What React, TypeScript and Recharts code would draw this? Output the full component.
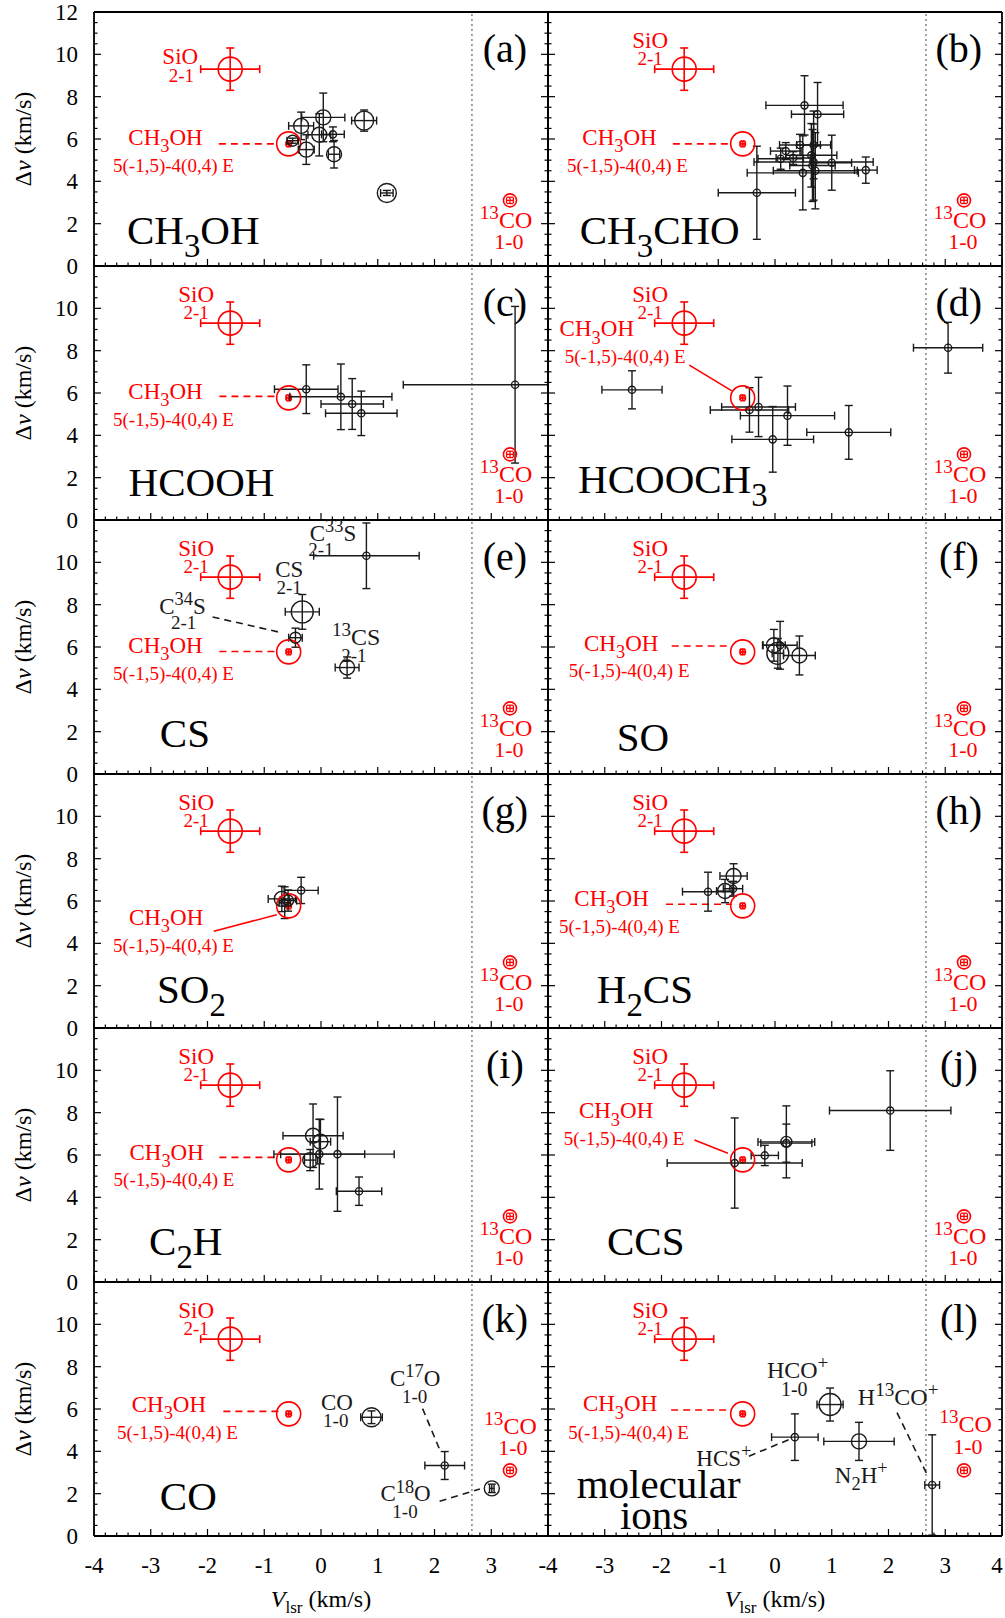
import React from 'react';
import { ScatterChart, Scatter, XAxis, YAxis, ErrorBar, ReferenceLine, ReferenceDot } from 'recharts';

const SERIF = '"Liberation Serif", "DejaVu Serif", serif';
const RED = '#ff0000';
const INK = '#1a1a1a';

// ---------- axes ----------
const X_MAJOR = [-4, -3, -2, -1, 0, 1, 2, 3, 4];
const Y_MAJOR = [0, 2, 4, 6, 8, 10, 12];
const X_TICKS: number[] = [];
for (let i = 0; i < X_MAJOR.length - 1; i++) for (let k = 0; k < 5; k++) X_TICKS.push(Math.round((X_MAJOR[i] + k * 0.2) * 10) / 10);
X_TICKS.push(4);
const Y_TICKS: number[] = [];
for (let i = 0; i < Y_MAJOR.length - 1; i++) for (let k = 0; k < 4; k++) Y_TICKS.push(Y_MAJOR[i] + k * 0.5);
Y_TICKS.push(12);
const VSYS = 2.66;

// ---------- reference (red) points ----------
const sio = [{ x: -1.6, y: 9.3, ex: 0.52, ey: 1.0 }];
const ch3ohRef = [{ x: -0.57, y: 5.77, ex: 0.045, ey: 0.13 }];
const co13 = [{ x: 3.33, y: 3.1, ex: 0.06, ey: 0.15 }];

// ---------- panel data: x = Vlsr, y = dv, ex/ey errors, s = marker class ----------
type Pt = { x: number; y: number; ex: number | number[]; ey: number | number[]; s: number };
const ptsA: Pt[] = [
  { x: -0.5, y: 5.92, ex: 0.1, ey: 0.12, s: 2 },
  { x: -0.35, y: 6.62, ex: 0.22, ey: 0.65, s: 3 },
  { x: 0.04, y: 7.02, ex: 0.38, ey: 1.15, s: 3 },
  { x: -0.03, y: 6.2, ex: 0.2, ey: 1.0, s: 3 },
  { x: 0.21, y: 6.22, ex: 0.2, ey: 0.35, s: 1 },
  { x: -0.26, y: 5.5, ex: 0.14, ey: 0.7, s: 3 },
  { x: 0.23, y: 5.28, ex: 0.1, ey: 0.65, s: 3 },
  { x: 0.76, y: 6.87, ex: 0.22, ey: 0.5, s: 4 },
  { x: 1.16, y: 3.45, ex: 0.11, ey: 0.12, s: 4 },
];
const ptsB: Pt[] = [
  { x: 0.52, y: 7.59, ex: 0.68, ey: 1.4, s: 1 },
  { x: 0.75, y: 7.17, ex: 0.46, ey: 1.5, s: 1 },
  { x: -0.32, y: 3.46, ex: 0.68, ey: 2.2, s: 1 },
  { x: 0.44, y: 5.72, ex: 0.36, ey: 0.5, s: 1 },
  { x: 0.68, y: 5.72, ex: 0.3, ey: 1.6, s: 1 },
  { x: 0.19, y: 5.43, ex: 0.27, ey: 0.4, s: 1 },
  { x: 0.1, y: 5.07, ex: 0.4, ey: 0.5, s: 1 },
  { x: 0.32, y: 5.1, ex: 0.3, ey: 0.3, s: 1 },
  { x: 0.64, y: 5.23, ex: 0.45, ey: 1.5, s: 1 },
  { x: 0.68, y: 4.91, ex: 1.05, ey: 1.8, s: 1 },
  { x: 1.0, y: 4.88, ex: 0.35, ey: 1.3, s: 1 },
  { x: 1.6, y: 4.53, ex: 0.2, ey: 0.62, s: 1 },
  { x: 0.49, y: 4.4, ex: 0.98, ey: 1.75, s: 1 },
  { x: 0.71, y: 4.5, ex: 0.74, ey: 1.8, s: 1 },
  { x: 0.66, y: 4.75, ex: 0.4, ey: 1.7, s: 1 },
];
const ptsC: Pt[] = [
  { x: -0.26, y: 6.18, ex: 0.56, ey: 1.15, s: 1 },
  { x: 0.35, y: 5.82, ex: 0.9, ey: 1.55, s: 1 },
  { x: 0.55, y: 5.48, ex: 0.55, ey: 1.2, s: 1 },
  { x: 0.71, y: 5.04, ex: 0.63, ey: 1.05, s: 1 },
  { x: 3.42, y: 6.39, ex: [1.97, 0.58], ey: 3.7, s: 1 },
];
const ptsD: Pt[] = [
  { x: -2.52, y: 6.15, ex: 0.53, ey: 0.9, s: 1 },
  { x: 3.05, y: 8.14, ex: 0.61, ey: 1.2, s: 1 },
  { x: -0.45, y: 5.2, ex: 0.69, ey: 1.05, s: 1 },
  { x: -0.29, y: 5.34, ex: 0.65, ey: 1.4, s: 1 },
  { x: 0.22, y: 4.93, ex: 0.83, ey: 1.4, s: 1 },
  { x: -0.04, y: 3.81, ex: 0.72, ey: 1.55, s: 1 },
  { x: 1.3, y: 4.14, ex: 0.74, ey: 1.27, s: 1 },
];
const ptsE: Pt[] = [
  { x: 0.8, y: 10.31, ex: 0.93, ey: 1.55, s: 1 },
  { x: -0.33, y: 7.66, ex: 0.3, ey: 0.82, s: 5 },
  { x: -0.45, y: 6.44, ex: 0.12, ey: 0.45, s: 2 },
  { x: 0.46, y: 5.03, ex: 0.21, ey: 0.5, s: 3 },
];
const ptsF: Pt[] = [
  { x: -0.02, y: 6.08, ex: 0.2, ey: 0.75, s: 3 },
  { x: 0.09, y: 6.08, ex: 0.3, ey: 1.13, s: 1 },
  { x: 0.05, y: 5.7, ex: 0.1, ey: 0.7, s: 5 },
  { x: 0.43, y: 5.6, ex: 0.28, ey: 0.92, s: 3 },
];
const ptsG: Pt[] = [
  { x: -0.35, y: 6.5, ex: 0.3, ey: 0.62, s: 1 },
  { x: -0.69, y: 6.1, ex: 0.24, ey: 0.6, s: 3 },
  { x: -0.64, y: 5.92, ex: 0.1, ey: 0.75, s: 1 },
  { x: -0.58, y: 6.02, ex: 0.15, ey: 0.5, s: 2 },
];
const ptsH: Pt[] = [
  { x: -1.18, y: 6.44, ex: 0.45, ey: 0.92, s: 1 },
  { x: -0.73, y: 7.18, ex: 0.24, ey: 0.58, s: 3 },
  { x: -0.88, y: 6.47, ex: 0.15, ey: 0.55, s: 3 },
  { x: -0.74, y: 6.58, ex: 0.17, ey: 0.35, s: 1 },
];
const ptsI: Pt[] = [
  { x: -0.14, y: 6.91, ex: 0.53, ey: 1.5, s: 3 },
  { x: -0.01, y: 6.63, ex: 0.18, ey: 1.05, s: 3 },
  { x: -0.19, y: 5.76, ex: 0.1, ey: 0.5, s: 3 },
  { x: -0.03, y: 6.04, ex: 0.8, ey: 1.65, s: 1 },
  { x: 0.29, y: 6.04, ex: 1.0, ey: 2.7, s: 1 },
  { x: 0.67, y: 4.29, ex: 0.4, ey: 0.67, s: 1 },
];
const ptsJ: Pt[] = [
  { x: 2.03, y: 8.1, ex: 1.07, ey: 1.88, s: 1 },
  { x: 0.2, y: 6.62, ex: 0.5, ey: 1.7, s: 2 },
  { x: 0.2, y: 6.56, ex: 0.45, ey: 0.9, s: 1 },
  { x: -0.18, y: 5.98, ex: 0.24, ey: 0.48, s: 1 },
  { x: -0.71, y: 5.62, ex: 1.19, ey: 2.13, s: 1 },
];
const ptsK: Pt[] = [
  { x: 0.89, y: 5.61, ex: 0.19, ey: 0.3, s: 4 },
  { x: 2.18, y: 3.33, ex: 0.35, ey: 0.66, s: 1 },
  { x: 3.01, y: 2.25, ex: 0.04, ey: 0.2, s: 3 },
];
const ptsL: Pt[] = [
  { x: 0.97, y: 6.21, ex: 0.23, ey: 0.78, s: 5 },
  { x: 0.35, y: 4.67, ex: 0.41, ey: 1.1, s: 1 },
  { x: 1.48, y: 4.47, ex: 0.62, ey: 0.9, s: 3 },
  { x: 2.77, y: 2.41, ex: 0.13, ey: 2.37, s: 1 },
];

// ---------- annotations ----------
type Ann = { t: string; x: number; y: number; size: number; color?: string; anchor?: 'start' | 'middle' };
type Seg = { a: [number, number]; b: [number, number]; dash: boolean; color: string };

type PanelDef = {
  id: string; col: number; row: number; pts: Pt[];
  name: Ann[]; sio: number[]; ch3: number[]; ch3Line: Seg; co: number[];
  extra: Ann[]; lines: Seg[];
};

const SIO_DEF = [-2.2, 10.3, -2.2, 9.48];
const CH3_DEF = [-2.74, 5.72, -2.6, 4.45];
const CO_DEF = [3.26, 1.8, 3.31, 0.78];
const hl = (x1: number, x2: number, y: number): Seg => ({ a: [x1, y], b: [x2, y], dash: true, color: RED });

const PANELS: PanelDef[] = [
  { id: 'a', col: 0, row: 0, pts: ptsA, name: [{ t: 'CH_{3}OH', x: -3.42, y: 1.03, size: 41, anchor: 'start' }],
    sio: [-2.48, 9.52, -2.46, 8.71], ch3: CH3_DEF, ch3Line: hl(-1.8, -0.78, 5.77), co: CO_DEF, extra: [], lines: [] },
  { id: 'b', col: 1, row: 0, pts: ptsB, name: [{ t: 'CH_{3}CHO', x: -3.44, y: 1.03, size: 41, anchor: 'start' }],
    sio: SIO_DEF, ch3: CH3_DEF, ch3Line: hl(-1.8, -0.77, 5.77), co: CO_DEF, extra: [], lines: [] },
  { id: 'c', col: 0, row: 1, pts: ptsC, name: [{ t: 'HCOOH', x: -3.39, y: 1.15, size: 41, anchor: 'start' }],
    sio: SIO_DEF, ch3: CH3_DEF, ch3Line: hl(-1.79, -0.78, 5.84), co: CO_DEF, extra: [], lines: [] },
  { id: 'd', col: 1, row: 1, pts: ptsD, name: [{ t: 'HCOOCH_{3}', x: -3.47, y: 1.27, size: 41, anchor: 'start' }],
    sio: SIO_DEF, ch3: [-3.14, 8.68, -2.64, 7.41], ch3Line: { a: [-1.51, 7.32], b: [-0.76, 6.1], dash: false, color: RED }, co: CO_DEF, extra: [], lines: [] },
  { id: 'e', col: 0, row: 2, pts: ptsE, name: [{ t: 'CS', x: -2.84, y: 1.26, size: 41, anchor: 'start' }],
    sio: SIO_DEF, ch3: CH3_DEF, ch3Line: hl(-1.79, -0.8, 5.79), co: CO_DEF,
    extra: [
      { t: 'C^{33}S', x: 0.21, y: 11.0, size: 23 }, { t: '2-1', x: 0.0, y: 10.32, size: 19 },
      { t: 'CS', x: -0.56, y: 9.31, size: 23 }, { t: '2-1', x: -0.56, y: 8.52, size: 19 },
      { t: 'C^{34}S', x: -2.44, y: 7.58, size: 23 }, { t: '2-1', x: -2.42, y: 6.87, size: 19 },
      { t: '^{13}CS', x: 0.62, y: 6.08, size: 24 }, { t: '2-1', x: 0.58, y: 5.29, size: 19 },
    ],
    lines: [{ a: [-1.91, 7.42], b: [-0.75, 6.71], dash: true, color: INK }] },
  { id: 'f', col: 1, row: 2, pts: ptsF, name: [{ t: 'SO', x: -2.79, y: 1.1, size: 41, anchor: 'start' }],
    sio: SIO_DEF, ch3: [-2.71, 5.82, -2.57, 4.57], ch3Line: hl(-1.82, -0.78, 6.05), co: CO_DEF, extra: [], lines: [] },
  { id: 'g', col: 0, row: 3, pts: ptsG, name: [{ t: 'SO_{2}', x: -2.89, y: 1.18, size: 41, anchor: 'start' }],
    sio: SIO_DEF, ch3: [-2.73, 4.86, -2.6, 3.58], ch3Line: { a: [-1.89, 4.57], b: [-0.78, 5.35], dash: false, color: RED }, co: CO_DEF, extra: [], lines: [] },
  { id: 'h', col: 1, row: 3, pts: ptsH, name: [{ t: 'H_{2}CS', x: -3.14, y: 1.18, size: 41, anchor: 'start' }],
    sio: SIO_DEF, ch3: [-2.88, 5.76, -2.74, 4.48], ch3Line: hl(-1.92, -0.76, 5.85), co: CO_DEF, extra: [], lines: [] },
  { id: 'i', col: 0, row: 4, pts: ptsI, name: [{ t: 'C_{2}H', x: -3.03, y: 1.26, size: 41, anchor: 'start' }],
    sio: SIO_DEF, ch3: [-2.72, 5.76, -2.59, 4.54], ch3Line: hl(-1.79, -0.78, 5.89), co: CO_DEF, extra: [], lines: [] },
  { id: 'j', col: 1, row: 4, pts: ptsJ, name: [{ t: 'CCS', x: -2.96, y: 1.26, size: 41, anchor: 'start' }],
    sio: SIO_DEF, ch3: [-2.8, 7.73, -2.66, 6.47], ch3Line: { a: [-1.42, 6.71], b: [-0.83, 6.08], dash: false, color: RED }, co: CO_DEF, extra: [], lines: [] },
  { id: 'k', col: 0, row: 5, pts: ptsK, name: [{ t: 'CO', x: -2.84, y: 1.24, size: 41, anchor: 'start' }],
    sio: SIO_DEF, ch3: [-2.68, 5.86, -2.53, 4.6], ch3Line: hl(-1.72, -0.75, 5.89), co: [3.34, 4.8, 3.38, 3.85],
    extra: [
      { t: 'CO', x: 0.28, y: 5.94, size: 23 }, { t: '1-0', x: 0.26, y: 5.15, size: 19 },
      { t: 'C^{17}O', x: 1.66, y: 7.09, size: 23 }, { t: '1-0', x: 1.65, y: 6.3, size: 19 },
      { t: 'C^{18}O', x: 1.49, y: 1.64, size: 23 }, { t: '1-0', x: 1.48, y: 0.83, size: 19 },
    ],
    lines: [
      { a: [1.79, 6.02], b: [2.11, 3.96], dash: true, color: INK },
      { a: [2.09, 1.64], b: [2.8, 2.22], dash: true, color: INK },
    ] },
  { id: 'l', col: 1, row: 5, pts: ptsL,
    name: [{ t: 'molecular', x: -2.05, y: 1.8, size: 41 }, { t: 'ions', x: -2.13, y: 0.35, size: 41 }],
    sio: SIO_DEF, ch3: [-2.73, 5.89, -2.58, 4.6], ch3Line: hl(-1.83, -0.79, 5.95), co: [3.36, 4.91, 3.4, 3.88],
    extra: [
      { t: 'HCO^{+}', x: 0.4, y: 7.47, size: 24 }, { t: '1-0', x: 0.34, y: 6.6, size: 20 },
      { t: 'H^{13}CO^{+}', x: 2.17, y: 6.18, size: 24 },
      { t: 'HCS^{+}', x: -0.9, y: 3.33, size: 23 },
      { t: 'N_{2}H^{+}', x: 1.52, y: 2.5, size: 23 },
    ],
    lines: [
      { a: [-0.46, 3.77], b: [0.25, 4.56], dash: true, color: INK },
      { a: [2.15, 5.83], b: [2.69, 2.85], dash: true, color: INK },
    ] },
];

// ---------- helpers ----------
function parseRich(s: string) {
  const out: { t: string; k: 'n' | 'sub' | 'sup' }[] = [];
  let i = 0;
  let buf = '';
  while (i < s.length) {
    const c = s[i];
    if ((c === '_' || c === '^') && s[i + 1] === '{') {
      if (buf) { out.push({ t: buf, k: 'n' }); buf = ''; }
      const end = s.indexOf('}', i);
      out.push({ t: s.slice(i + 2, end), k: c === '_' ? 'sub' : 'sup' });
      i = end + 1;
    } else { buf += c; i++; }
  }
  if (buf) out.push({ t: buf, k: 'n' });
  return out;
}

function RichText({ x, y, text, size, fill, anchor }: { x: number; y: number; text: string; size: number; fill: string; anchor: string }) {
  const parts = parseRich(text);
  let cur = 0;
  return (
    <text x={x} y={y} fontSize={size} fill={fill} textAnchor={anchor as any} fontFamily={SERIF}>
      {parts.map((p, i) => {
        const target = p.k === 'sub' ? size * 0.32 : p.k === 'sup' ? -size * 0.38 : 0;
        const dy = target - cur;
        cur = target;
        return (
          <tspan key={i} dy={dy} fontSize={p.k === 'n' ? size : size * 0.8}>{p.t}</tspan>
        );
      })}
    </text>
  );
}

const R_CLASS = [0, 3.6, 5.5, 7.5, 9.5, 11];
const blackShape = (props: any) => {
  const s = (props.payload && props.payload.s) || props.s || 1;
  return <circle cx={props.cx} cy={props.cy} r={R_CLASS[s]} fill="none" stroke={INK} strokeWidth={1.4} />;
};
const redShape = (r: number) => (props: any) => (
  <circle cx={props.cx} cy={props.cy} r={r} fill="none" stroke={RED} strokeWidth={1.6} />
);

const makeXTick = (side: 'top' | 'bottom', labels: boolean, maxLabel: number) => (props: any) => {
  const { x, y, payload } = props;
  const v = payload.value as number;
  const major = Math.abs(v - Math.round(v)) < 1e-6;
  const len = major ? 7 : 3.5;
  const dir = side === 'bottom' ? -1 : 1;
  const lx = v > 3.5 ? x - 5 : x;
  return (
    <g>
      <line x1={x} x2={x} y1={y} y2={y + dir * len} stroke="#000" strokeWidth={1.2} />
      {labels && major && v <= maxLabel + 1e-6 ? (
        <text x={lx} y={y + 37} textAnchor="middle" fontSize={23} fontFamily={SERIF} fill="#000">{Math.round(v)}</text>
      ) : null}
    </g>
  );
};

const makeYTick = (side: 'left' | 'right', labels: boolean, maxLabel: number) => (props: any) => {
  const { x, y, payload } = props;
  const v = payload.value as number;
  const major = Math.abs(v / 2 - Math.round(v / 2)) < 1e-6;
  const len = major ? 7 : 3.5;
  const dir = side === 'left' ? 1 : -1;
  return (
    <g>
      <line x1={x} x2={x + dir * len} y1={y} y2={y} stroke="#000" strokeWidth={1.2} />
      {labels && major && v <= maxLabel + 1e-6 ? (
        <text x={x - 16} y={y + 8} textAnchor="end" fontSize={23} fontFamily={SERIF} fill="#000">{Math.round(v)}</text>
      ) : null}
    </g>
  );
};

const PLOT_LEFT = 94;
const PLOT_TOP = 12;
const PW = 454;
const PH = 254;
const AXIS = { stroke: '#000', strokeWidth: 1.8 };

function annDot(a: Ann, key: string, color: string) {
  return (
    <ReferenceDot
      key={key}
      x={a.x}
      y={a.y}
      r={0}
      ifOverflow="visible"
      shape={(p: any) => (
        <RichText x={p.cx} y={p.cy} text={a.t} size={a.size} fill={a.color || color} anchor={a.anchor || 'middle'} />
      )}
    />
  );
}

function segLine(s: Seg, key: string) {
  return (
    <ReferenceLine
      key={key}
      segment={[{ x: s.a[0], y: s.a[1] }, { x: s.b[0], y: s.b[1] }]}
      stroke={s.color}
      strokeWidth={1.6}
      strokeDasharray={s.dash ? '7 5' : undefined}
      ifOverflow="visible"
    />
  );
}

function Panel({ p }: { p: PanelDef }) {
  const { col, row } = p;
  const ls = col === 0 ? PLOT_LEFT : 20;
  const rs = col === 0 ? 20 : 3;
  const ts = row === 0 ? PLOT_TOP : 20;
  const bs = row === 5 ? 82 : 20;
  const W = ls + PW + rs;
  const H = ts + PH + bs;
  const left = col === 0 ? 0 : PLOT_LEFT + PW - ls;
  const top = PLOT_TOP + row * PH - ts;
  const redAnns: Ann[] = [
    { t: 'SiO', x: p.sio[0], y: p.sio[1], size: 23 },
    { t: '2-1', x: p.sio[2], y: p.sio[3], size: 19 },
    { t: 'CH_{3}OH', x: p.ch3[0], y: p.ch3[1], size: 23 },
    { t: '5(-1,5)-4(0,4) E', x: p.ch3[2], y: p.ch3[3], size: 19 },
    { t: '^{13}CO', x: p.co[0], y: p.co[1], size: 24 },
    { t: '1-0', x: p.co[2], y: p.co[3], size: 22 },
  ];
  return (
    <div style={{ position: 'absolute', left, top, width: W, height: H }}>
      <ScatterChart width={W} height={H} margin={{ top: 0, right: 0, bottom: 0, left: 0 }}>
        <XAxis xAxisId={0} type="number" dataKey="x" domain={[-4, 4]} allowDataOverflow ticks={X_TICKS} interval={0}
          tickSize={0} tickMargin={0} tickLine={false} axisLine={AXIS} height={bs} orientation="bottom"
          tick={makeXTick('bottom', row === 5, col === 0 ? 3 : 4)} />
        <XAxis xAxisId="t" type="number" domain={[-4, 4]} allowDataOverflow ticks={X_TICKS} interval={0}
          tickSize={0} tickMargin={0} tickLine={false} axisLine={AXIS} height={ts} orientation="top"
          tick={makeXTick('top', false, 0)} />
        <YAxis yAxisId={0} type="number" dataKey="y" domain={[0, 12]} allowDataOverflow ticks={Y_TICKS} interval={0}
          tickSize={0} tickMargin={0} tickLine={false} axisLine={AXIS} width={ls} orientation="left"
          tick={makeYTick('left', col === 0, row === 0 ? 12 : 10)} />
        <YAxis yAxisId="r" type="number" domain={[0, 12]} allowDataOverflow ticks={Y_TICKS} interval={0}
          tickSize={0} tickMargin={0} tickLine={false} axisLine={AXIS} width={rs} orientation="right"
          tick={makeYTick('right', false, 0)} />
        <ReferenceLine x={VSYS} stroke="#555" strokeDasharray="2 3" strokeWidth={1.1} />
        {segLine(p.ch3Line, 'ch3line')}
        {p.lines.map((s, i) => segLine(s, 'ln' + i))}
        <Scatter data={sio} isAnimationActive={false} shape={redShape(12)}>
          <ErrorBar dataKey="ex" direction="x" width={4} stroke={RED} strokeWidth={1.6} isAnimationActive={false} />
          <ErrorBar dataKey="ey" direction="y" width={4} stroke={RED} strokeWidth={1.6} isAnimationActive={false} />
        </Scatter>
        <Scatter data={ch3ohRef} isAnimationActive={false} shape={redShape(12)}>
          <ErrorBar dataKey="ex" direction="x" width={2.5} stroke={RED} strokeWidth={1.8} isAnimationActive={false} />
          <ErrorBar dataKey="ey" direction="y" width={2.5} stroke={RED} strokeWidth={1.8} isAnimationActive={false} />
        </Scatter>
        <Scatter data={co13} isAnimationActive={false} shape={redShape(6.5)}>
          <ErrorBar dataKey="ex" direction="x" width={3} stroke={RED} strokeWidth={1.3} isAnimationActive={false} />
          <ErrorBar dataKey="ey" direction="y" width={3} stroke={RED} strokeWidth={1.3} isAnimationActive={false} />
        </Scatter>
        <Scatter data={p.pts} isAnimationActive={false} shape={blackShape}>
          <ErrorBar dataKey="ex" direction="x" width={4} stroke={INK} strokeWidth={1.4} isAnimationActive={false} />
          <ErrorBar dataKey="ey" direction="y" width={4} stroke={INK} strokeWidth={1.4} isAnimationActive={false} />
        </Scatter>
        {redAnns.map((a, i) => annDot(a, 'r' + i, RED))}
        {p.extra.map((a, i) => annDot(a, 'e' + i, INK))}
        {p.name.map((a, i) => annDot(a, 'n' + i, '#000'))}
        {annDot({ t: '(' + p.id + ')', x: 3.24, y: 9.62, size: 40 }, 'letter', '#000')}
      </ScatterChart>
    </div>
  );
}

export default function App() {
  const rows = [0, 1, 2, 3, 4, 5];
  return (
    <div style={{ position: 'absolute', left: 0, top: 0, width: 1005, height: 1618, background: '#fff' }}>
      {PANELS.map((p) => <Panel key={p.id} p={p} />)}
      <svg width={1005} height={1618} style={{ position: 'absolute', left: 0, top: 0, pointerEvents: 'none' }}>
        {rows.map((r) => {
          const cy = PLOT_TOP + PH * r + PH / 2;
          return (
            <text key={r} x={31} y={cy} transform={`rotate(-90 31 ${cy})`} textAnchor="middle" fontSize={24} fontFamily={SERIF} fill="#000">
              Δ<tspan fontStyle="italic">v</tspan> (km/s)
            </text>
          );
        })}
        {[0, 1].map((c) => {
          const cx = PLOT_LEFT + PW * c + PW / 2;
          return (
            <text key={c} x={cx} y={1607} textAnchor="middle" fontSize={24} fontFamily={SERIF} fill="#000">
              <tspan fontStyle="italic">V</tspan>
              <tspan fontSize={17} dy={6}>lsr</tspan>
              <tspan dy={-6}> (km/s)</tspan>
            </text>
          );
        })}
      </svg>
    </div>
  );
}
